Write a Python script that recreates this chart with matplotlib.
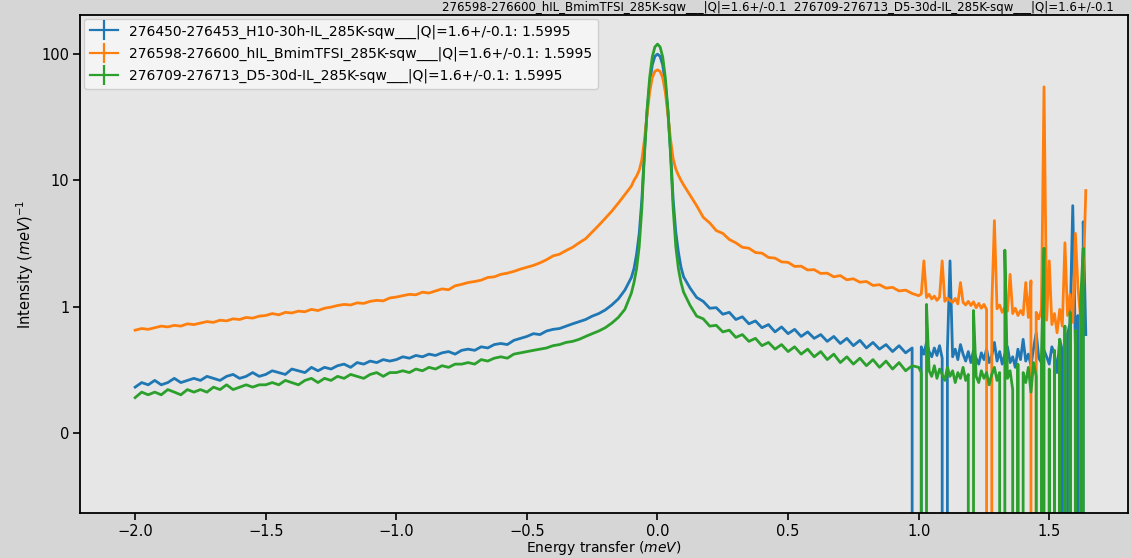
import numpy as np
import matplotlib
matplotlib.use("Agg")
import matplotlib.pyplot as plt
from matplotlib.lines import Line2D

plt.rcParams['font.family'] = ['DejaVu Sans']
plt.rcParams['font.size'] = 10.5

# energy bins (meV): left wing, elastic core, right wing, noisy tail
e_left = np.linspace(-2.0, -0.125, 76)
e_core = np.linspace(-0.1, 0.1, 21)
e_right = np.linspace(0.125, 0.975, 35)
e_tail = np.linspace(1.0, 1.64, 65)
energy = np.concatenate([e_left, e_core, e_right, e_tail])

labels = [
    "276450-276453_H10-30h-IL_285K-sqw___|Q|=1.6+/-0.1: 1.5995",
    "276598-276600_hIL_BmimTFSI_285K-sqw___|Q|=1.6+/-0.1: 1.5995",
    "276709-276713_D5-30d-IL_285K-sqw___|Q|=1.6+/-0.1: 1.5995",
]
colors = ["#1f77b4", "#ff7f0e", "#2ca02c"]
title = ("276598-276600_hIL_BmimTFSI_285K-sqw___|Q|=1.6+/-0.1  "
         "276709-276713_D5-30d-IL_285K-sqw___|Q|=1.6+/-0.1")

# ---- H10-30h-IL (blue)
blue_left = [0.23, 0.25, 0.24, 0.26, 0.24, 0.25, 0.27, 0.25, 0.26, 0.27,
             0.26, 0.28, 0.27, 0.26, 0.28, 0.29, 0.27, 0.28, 0.30, 0.28,
             0.29, 0.31, 0.30, 0.29, 0.32, 0.31, 0.30, 0.33, 0.31, 0.33,
             0.32, 0.34, 0.35, 0.33, 0.36, 0.35, 0.37, 0.36, 0.38, 0.37,
             0.38, 0.40, 0.39, 0.41, 0.40, 0.42, 0.41, 0.43, 0.44, 0.42,
             0.45, 0.46, 0.45, 0.48, 0.47, 0.50, 0.51, 0.50, 0.54, 0.56,
             0.58, 0.61, 0.60, 0.64, 0.66, 0.67, 0.70, 0.73, 0.76, 0.79,
             0.84, 0.88, 0.94, 1.03, 1.15, 1.35]
blue_core = [1.7, 2.0, 2.6, 3.8, 7.0, 17, 35, 58, 82, 96, 100,
             96, 82, 58, 35, 17, 7.0, 3.9, 2.7, 2.05, 1.72]
blue_right = [1.40, 1.18, 1.10, 0.97, 0.98, 0.87, 0.90, 0.79, 0.83, 0.73,
              0.77, 0.68, 0.72, 0.63, 0.69, 0.61, 0.66, 0.58, 0.63, 0.56,
              0.60, 0.53, 0.58, 0.51, 0.56, 0.49, 0.54, 0.47, 0.52, 0.46,
              0.50, 0.44, 0.49, 0.43, 0.47]
blue_tail = [0.0, 0.48, 0.42, 0.52, 0.44, 0.40, 0.47, 0.41, 0.49, 0.39,
             0.0, 0.45, 2.3, 0.40, 0.46, 0.38, 0.50, 0.42, 0.37, 0.44,
             0.36, 0.45, 0.39, 0.35, 0.43, 0.38, 0.46, 0.36, 0.41, 0.52,
             0.37, 0.44, 0.35, 0.42, 0.48, 0.36, 0.40, 0.33, 0.46, 0.38,
             0.55, 0.37, 0.42, 0.34, 0.47, 0.62, 0.39, 0.36, 0.45, 0.40,
             0.35, 0.48, 0.42, 0.30, 0.55, 0.45, 0.0, 0.60, 0.75, 6.3,
             0.50, 0.85, 0.0, 4.7, 0.6]

# ---- hIL BmimTFSI (orange)
orange_left = [0.65, 0.67, 0.66, 0.68, 0.70, 0.69, 0.71, 0.70, 0.73, 0.72,
               0.74, 0.76, 0.75, 0.78, 0.77, 0.80, 0.79, 0.82, 0.81, 0.84,
               0.85, 0.88, 0.86, 0.90, 0.89, 0.92, 0.91, 0.95, 0.93, 0.97,
               0.99, 1.02, 1.04, 1.03, 1.07, 1.06, 1.10, 1.12, 1.11, 1.17,
               1.19, 1.22, 1.25, 1.24, 1.30, 1.28, 1.33, 1.38, 1.36, 1.46,
               1.50, 1.55, 1.58, 1.62, 1.70, 1.72, 1.80, 1.84, 1.90, 1.98,
               2.05, 2.12, 2.22, 2.35, 2.52, 2.60, 2.78, 2.95, 3.20, 3.45,
               3.9, 4.4, 5.0, 5.7, 6.6, 7.7]
orange_core = [9.0, 10.0, 10.8, 12.0, 14.5, 21, 33, 50, 65, 73, 75,
               73, 65, 50, 33, 21, 14.8, 12.3, 11.0, 10.0, 9.2]
orange_right = [7.6, 6.3, 5.1, 4.6, 4.0, 3.8, 3.4, 3.2, 2.95, 2.9,
                2.68, 2.65, 2.45, 2.42, 2.26, 2.24, 2.08, 2.09, 1.95, 1.96,
                1.83, 1.84, 1.72, 1.76, 1.63, 1.66, 1.56, 1.58, 1.47, 1.49,
                1.40, 1.42, 1.33, 1.35, 1.27]
orange_tail = [1.22, 1.26, 2.3, 1.18, 1.25, 1.15, 1.21, 1.12, 1.19, 2.3,
               1.10, 1.17, 1.12, 1.08, 1.16, 1.05, 1.55, 1.08, 1.03, 1.10,
               1.02, 1.09, 0.98, 1.06, 0.97, 1.04, 0.95, 0.0, 1.02, 4.8,
               0.96, 1.03, 0.90, 0.99, 0.92, 1.8, 0.88, 0.97, 0.85, 0.93,
               0.86, 1.55, 0.82, 1.6, 0.0, 0.90, 0.80, 0.95, 55, 0.78,
               2.3, 0.72, 0.88, 0.62, 0.95, 0.70, 3.2, 0.85, 1.25, 0.75,
               3.8, 1.40, 0.80, 1.6, 8.3]

# ---- D5-30d-IL (green)
green_left = [0.19, 0.21, 0.20, 0.21, 0.20, 0.22, 0.21, 0.20, 0.22, 0.21,
              0.22, 0.21, 0.23, 0.22, 0.24, 0.22, 0.23, 0.24, 0.23, 0.24,
              0.24, 0.25, 0.24, 0.26, 0.25, 0.24, 0.26, 0.27, 0.25, 0.27,
              0.26, 0.28, 0.27, 0.29, 0.28, 0.27, 0.29, 0.30, 0.28, 0.30,
              0.30, 0.31, 0.30, 0.32, 0.31, 0.33, 0.32, 0.34, 0.33, 0.35,
              0.35, 0.36, 0.35, 0.38, 0.37, 0.39, 0.40, 0.39, 0.42, 0.43,
              0.44, 0.45, 0.46, 0.47, 0.49, 0.50, 0.52, 0.53, 0.55, 0.58,
              0.61, 0.64, 0.68, 0.74, 0.82, 0.95]
green_core = [1.28, 1.55, 2.0, 3.0, 6.0, 16, 36, 65, 95, 114, 120,
              114, 95, 65, 36, 16, 6.0, 3.0, 2.0, 1.55, 1.30]
green_right = [1.02, 0.84, 0.80, 0.70, 0.71, 0.63, 0.65, 0.57, 0.60, 0.53,
               0.56, 0.49, 0.52, 0.46, 0.50, 0.44, 0.48, 0.42, 0.46, 0.40,
               0.44, 0.38, 0.42, 0.36, 0.40, 0.35, 0.39, 0.34, 0.38, 0.33,
               0.37, 0.32, 0.36, 0.31, 0.34]
green_tail = [0.33, 0.30, 0.0, 1.04, 0.31, 0.28, 0.34, 0.27, 0.32, 0.29,
              0.26, 0.33, 0.28, 0.31, 0.25, 0.30, 0.27, 0.33, 0.26, 0.29,
              0.0, 0.93, 0.28, 0.25, 0.31, 0.27, 0.30, 0.24, 0.29, 0.33,
              0.26, 0.30, 0.0, 2.8, 0.27, 0.31, 0.22, 0.0, 0.35, 0.0,
              0.30, 0.25, 0.33, 0.21, 0.36, 0.28, 0.0, 0.40, 2.9, 0.0,
              0.32, 0.0, 0.45, 0.0, 0.55, 0.0, 0.70, 0.0, 0.90, 0.0,
              0.65, 0.0, 1.1, 2.9, 0.0]

series = [
    blue_left + blue_core + blue_right + blue_tail,
    orange_left + orange_core + orange_right + orange_tail,
    green_left + green_core + green_right + green_tail,
]
for s in series:
    assert len(s) == len(energy)

fig = plt.figure(figsize=(11.31, 5.58), dpi=100)
fig.patch.set_facecolor('#d6d6d6')
ax = fig.add_axes([0.071, 0.08, 0.926, 0.894])
ax.set_facecolor('#e6e6e6')

for y, c in zip(series, colors):
    ax.plot(energy, y, color=c, lw=2.0)

ax.set_yscale('log', nonpositive='clip')
ax.set_xlim(-2.21, 1.80)
ax.set_ylim(0.023, 206)
ax.set_yticks([0.1, 1, 10, 100])
ax.set_yticklabels(["0", "1", "10", "100"])
ax.yaxis.set_minor_locator(matplotlib.ticker.NullLocator())
ax.set_xticks([-2.0, -1.5, -1.0, -0.5, 0.0, 0.5, 1.0, 1.5])
ax.tick_params(length=5, width=1.2, pad=3)
for sp in ax.spines.values():
    sp.set_linewidth(1.3)

ax.set_xlabel("Energy transfer ($meV$)", labelpad=0, fontsize=10)
ax.set_ylabel("Intensity ($meV$)$^{-1}$", labelpad=4)

handles = [Line2D([], [], color=c, lw=1.6, marker='|', markersize=14,
                  markeredgewidth=1.6) for c in colors]
ax.legend(handles, labels, loc='upper left', fontsize=10,
          borderaxespad=0.3, handlelength=2.0, framealpha=0.6,
          edgecolor='#bbbbbb', labelspacing=0.55)

fig.text(0.985, 0.999, title, ha='right', va='top', fontsize=8.5)

fig.savefig("out.png", dpi=100, facecolor=fig.get_facecolor())
